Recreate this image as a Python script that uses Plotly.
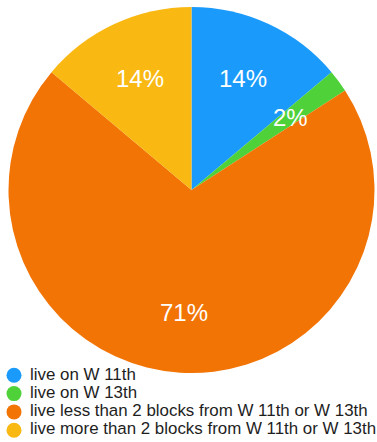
import numpy as np
import plotly.graph_objects as go

labels = [
    "live on W 11th",
    "live on W 13th",
    "live less than 2 blocks from W 11th or W 13th",
    "live more than 2 blocks from W 11th or W 13th",
]
shares = [14, 2, 71, 14]
colors = ["#1a9bfb", "#4fd13a", "#f27405", "#f9b812"]

FONT = "Liberation Sans, Arial, Helvetica, sans-serif"
W, H = 377, 442

# pie placement in pixels
PIE_LEFT, PIE_RIGHT, PIE_TOP, PIE_BOTTOM = 8, 375, 7, 373
cx = (PIE_LEFT + PIE_RIGHT) / 2
cy = (PIE_TOP + PIE_BOTTOM) / 2
radius = (PIE_BOTTOM - PIE_TOP) / 2

fig = go.Figure()

fig.add_trace(go.Pie(
    labels=labels,
    values=shares,
    sort=False,
    direction="clockwise",
    rotation=0,
    marker=dict(colors=colors, line=dict(width=0)),
    textinfo="none",
    hoverinfo="label+percent",
    showlegend=False,
    domain=dict(x=[PIE_LEFT / W, PIE_RIGHT / W], y=[1 - PIE_BOTTOM / H, 1 - PIE_TOP / H]),
))

# Percentage labels placed at each slice's mid-angle (annotations sit above the pie)
vals = np.array(shares, dtype=float)
cum = np.cumsum(vals)
mid = (cum - vals / 2) / vals.sum() * 2 * np.pi
r_lab = 0.67 * radius
for v, a in zip(shares, mid):
    fig.add_annotation(
        x=cx + r_lab * np.sin(a),
        y=cy - r_lab * np.cos(a),
        xref="x", yref="y",
        text=f"{v}%",
        showarrow=False,
        xanchor="center", yanchor="middle",
        font=dict(family=FONT, size=24, color="white"),
    )

# Legend rows: round swatch + label
row_y = 375.3 + 18.3 * np.arange(len(labels))
fig.add_trace(go.Scatter(
    x=[14] * len(labels),
    y=row_y,
    mode="markers",
    marker=dict(symbol="circle", size=15, color=colors),
    hoverinfo="skip",
    showlegend=False,
))
fig.add_trace(go.Scatter(
    x=[30] * len(labels),
    y=row_y,
    mode="text",
    text=labels,
    textposition="middle right",
    textfont=dict(family=FONT, size=16.9, color="#1e1e1e"),
    hoverinfo="skip",
    showlegend=False,
))

fig.update_layout(
    width=W,
    height=H,
    margin=dict(l=0, r=0, t=0, b=0),
    paper_bgcolor="white",
    plot_bgcolor="rgba(0,0,0,0)",
    showlegend=False,
    xaxis=dict(visible=False, range=[0, W], domain=[0, 1], fixedrange=True),
    yaxis=dict(visible=False, range=[H, 0], domain=[0, 1], fixedrange=True),
)

fig.write_html("out.html")
